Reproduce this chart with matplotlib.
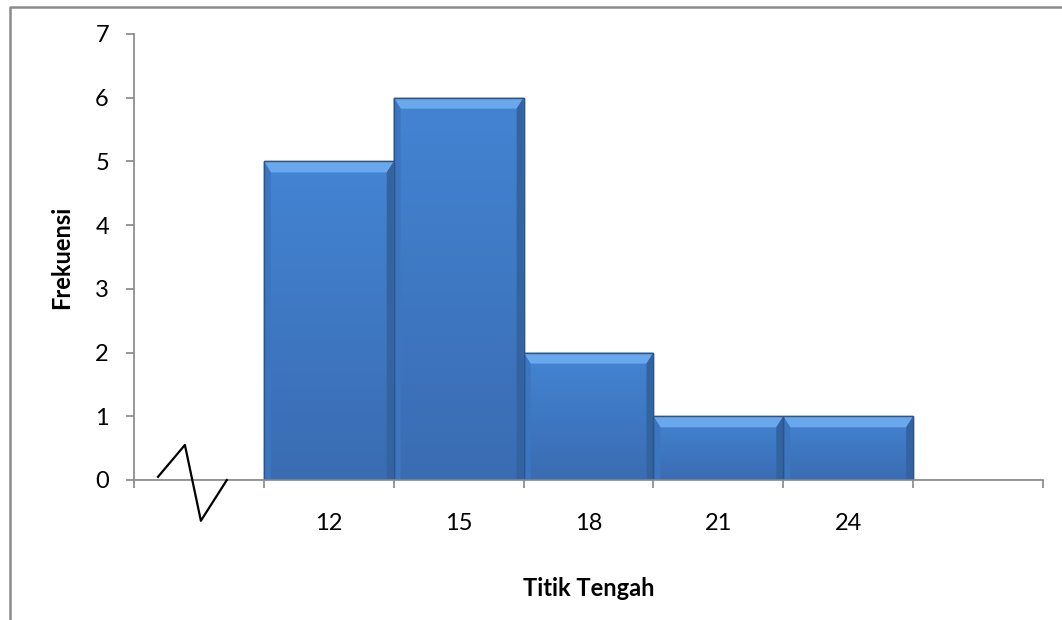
import numpy as np
import matplotlib.pyplot as plt
from matplotlib.patches import Polygon
from matplotlib.colors import LinearSegmentedColormap

plt.rcParams['font.family'] = ['Lato', 'DejaVu Sans']

# data
labels = ['', '12', '15', '18', '21', '24', '']
freq = [0, 5, 6, 2, 1, 1, 0]

W, H = 1062, 620
fig = plt.figure(figsize=(W / 100, H / 100), dpi=100)
ax = fig.add_axes([134 / W, 1 - 480 / H, (1043 - 134) / W, (480 - 34) / H])

x = np.arange(len(labels))
bars = ax.bar(x, freq, width=1.0, color='#3f7ccb', edgecolor='#2b568c',
              linewidth=1.0, zorder=2)

# vertical gradient inside each bar
grad = LinearSegmentedColormap.from_list('g', ['#3a6cb2', '#4384d3'])
gy = np.linspace(0, 1, 256).reshape(-1, 1)

# bevel sizes in data units
bx = 7 / 130
by = 11 / 63.7
for b, v in zip(bars, freq):
    if v <= 0:
        continue
    x0, x1 = b.get_x(), b.get_x() + b.get_width()
    im = ax.imshow(gy, cmap=grad, aspect='auto', origin='lower',
                   extent=[x0, x1, 0, v], zorder=2.1)
    im.set_clip_path(b)
    top = Polygon([[x0, v], [x1, v], [x1 - bx, v - by], [x0 + bx, v - by]],
                  closed=True, fc='#6aa8ee', ec='none', zorder=2.2)
    left = Polygon([[x0, v], [x0 + bx, v - by], [x0 + bx, 0], [x0, 0]],
                   closed=True, fc='#3d76c0', ec='none', zorder=2.2)
    right = Polygon([[x1, v], [x1 - bx, v - by], [x1 - bx, 0], [x1, 0]],
                    closed=True, fc='#34649f', ec='none', zorder=2.2)
    for p in (top, left, right):
        ax.add_patch(p)
    ax.add_patch(Polygon([[x0, 0], [x1, 0], [x1, v], [x0, v]], closed=True,
                         fc='none', ec='#2b568c', lw=1.0, zorder=2.3))

ax.set_xlim(-0.5, len(labels) - 0.5)
ax.set_ylim(0, 7)
ax.set_yticks(range(0, 8))

ax.set_xticks(x)
ax.set_xticklabels(labels)
ax.set_xticks(np.arange(-0.5, len(labels)), minor=True)
ax.tick_params(axis='x', which='major', length=0, pad=24, labelsize=17)
ax.tick_params(axis='x', which='minor', length=6, width=1.2, color='#868686')
ax.tick_params(axis='y', length=6, width=1.2, color='#868686', pad=12,
               labelsize=17)

for s in ('top', 'right'):
    ax.spines[s].set_visible(False)
for s in ('left', 'bottom'):
    ax.spines[s].set_color('#868686')
    ax.spines[s].set_linewidth(1.2)

ax.set_xlabel('Titik Tengah', fontsize=17, fontweight='bold', labelpad=31)
ax.set_ylabel('Frekuensi', fontsize=17, fontweight='bold', labelpad=16)

# axis break sign
ax.plot([-0.315, -0.108, 0.015, 0.215], [0.05, 0.55, -0.64, 0.0],
        color='black', lw=1.6, clip_on=False, zorder=3)

# outer chart frame
fig.add_artist(plt.Line2D([9.5 / W, 9.5 / W, 1.0], [0.0, 1 - 6.5 / H, 1 - 6.5 / H],
                          transform=fig.transFigure, color='#8c8c8c', lw=1.8))

fig.savefig('out.png', dpi=100)
